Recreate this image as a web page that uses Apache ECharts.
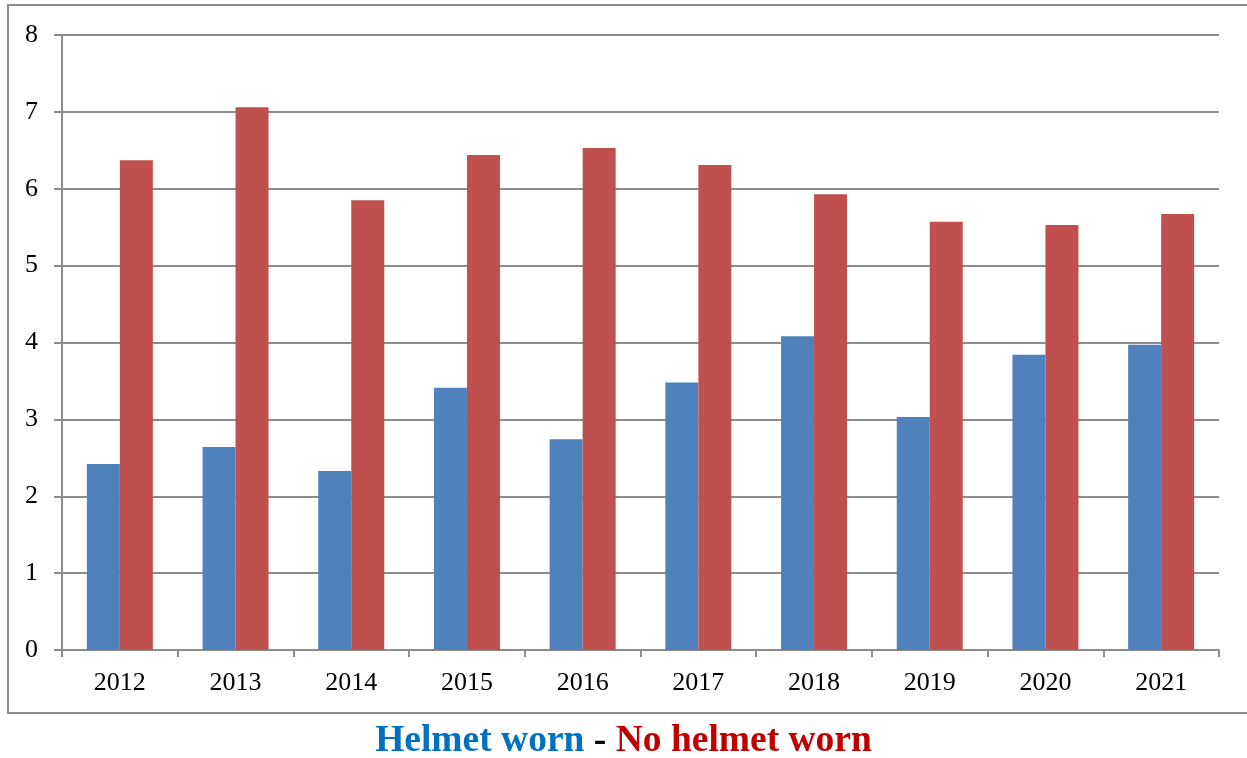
<!DOCTYPE html>
<html>
<head>
<meta charset="utf-8">
<script src="https://cdn.jsdelivr.net/npm/echarts@6/dist/echarts.min.js"></script>
<style>
  html, body { margin: 0; padding: 0; background: #ffffff; }
  #chart { width: 1247px; height: 758px; }
</style>
</head>
<body>
<div id="chart"></div>
<script>
// Years along the category axis
const years = ['2012', '2013', '2014', '2015', '2016', '2017', '2018', '2019', '2020', '2021'];
// Rates per year, with and without a helmet
const helmetWorn = [2.42, 2.64, 2.33, 3.41, 2.74, 3.48, 4.08, 3.03, 3.84, 3.97];
const noHelmetWorn = [6.37, 7.06, 5.85, 6.44, 6.53, 6.31, 5.93, 5.57, 5.53, 5.67];

const chart = echarts.init(document.getElementById('chart'), null, { renderer: 'canvas' });

const serif = '"Liberation Serif", "Times New Roman", serif';
const gridColor = '#8c8c8c';
const titleFont = 'bold 37.5px ' + serif;

chart.setOption({
  animation: false,
  backgroundColor: '#ffffff',
  graphic: [
    {
      type: 'rect',
      shape: { x: 8, y: 5, width: 1260, height: 708 },
      style: { fill: 'none', stroke: '#8c8c8c', lineWidth: 2 },
      silent: true
    },
    {
      type: 'text',
      left: 'center',
      top: 722,
      style: {
        text: '{a|Helmet worn }{b|- }{c|No helmet worn}',
        rich: {
          a: { fill: '#0070C0', font: titleFont },
          b: { fill: '#000000', font: titleFont },
          c: { fill: '#C00000', font: titleFont }
        }
      }
    }
  ],
  grid: { left: 62, right: 28, top: 35, bottom: 108, containLabel: false },
  xAxis: {
    type: 'category',
    data: years,
    axisLine: { show: true, lineStyle: { color: gridColor, width: 2 } },
    axisTick: { show: true, length: 7, lineStyle: { color: gridColor, width: 2 } },
    axisLabel: { color: '#000000', fontFamily: serif, fontSize: 26, margin: 20 },
    splitLine: { show: false }
  },
  yAxis: {
    type: 'value',
    min: 0,
    max: 8,
    interval: 1,
    axisLine: { show: true, lineStyle: { color: gridColor, width: 2 } },
    axisTick: { show: true, length: 8, lineStyle: { color: gridColor, width: 2 } },
    axisLabel: { color: '#000000', fontFamily: serif, fontSize: 26, margin: 24 },
    splitLine: { show: true, lineStyle: { color: gridColor, width: 2 } }
  },
  series: [
    {
      name: 'Helmet worn',
      type: 'bar',
      data: helmetWorn,
      barWidth: 33,
      barGap: '0%',
      itemStyle: { color: '#4F81BD' }
    },
    {
      name: 'No helmet worn',
      type: 'bar',
      data: noHelmetWorn,
      barWidth: 33,
      barGap: '0%',
      itemStyle: { color: '#C0504D' }
    }
  ]
});
</script>
</body>
</html>
